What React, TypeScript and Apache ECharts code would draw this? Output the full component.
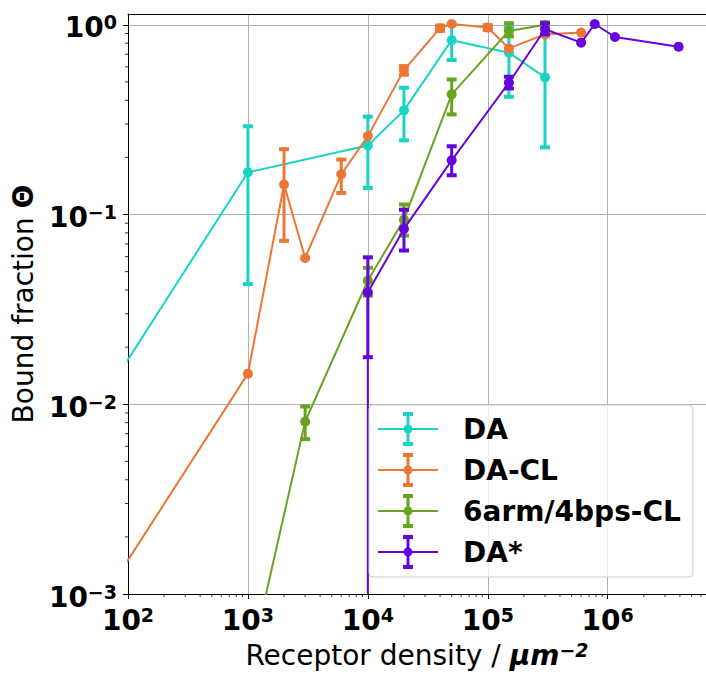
import React, { useEffect, useRef } from 'react';
import * as echarts from 'echarts';

// ---- data ----
const seriesNames = ['DA', 'DA-CL', '6arm/4bps-CL', 'DA*'];
const seriesColors = ['#19d3c5', '#ec7633', '#67a41f', '#6505dc'];

const daX = [1e1, 1e3, 1e4, 2e4, 5e4, 1.5e5, 3e5];
const daY = [0.00177, 0.167, 0.231, 0.354, 0.83, 0.713, 0.528];
const daLo = [null, 0.043, 0.138, 0.246, 0.652, 0.418, 0.226];
const daHi = [null, 0.292, 0.328, 0.466, 1.0, 0.97, 0.88];

const daclX = [1e1, 1e3, 2e3, 3e3, 6e3, 1e4, 2e4, 4e4, 5e4, 1e5, 1.5e5, 3e5, 6e5];
const daclY = [0.000157, 0.0145, 0.144, 0.059, 0.163, 0.259, 0.577, 0.96, 1.01, 0.967, 0.751, 0.89, 0.91];
const daclLo = [null, null, 0.0727, null, 0.13, null, 0.546, 0.93, null, 0.94, null, null, null];
const daclHi = [null, null, 0.221, null, 0.195, null, 0.606, 0.99, null, 0.995, null, null, null];

const armX = [1e3, 3e3, 1e4, 2e4, 5e4, 1.5e5, 3e5];
const armY = [0.00038, 0.0081, 0.0449, 0.094, 0.43, 0.928, 1.0];
const armLo = [null, 0.00655, 0.0374, 0.0775, 0.337, 0.87, 0.97];
const armHi = [null, 0.00973, 0.0524, 0.113, 0.515, 1.02, 1.03];

const dasX = [1e4, 1e4, 2e4, 5e4, 1.5e5, 3e5, 6e5, 7.8e5, 1.15e6, 3.9e6];
const dasY = [1e-6, 0.0389, 0.084, 0.193, 0.495, 0.947, 0.805, 1.01, 0.862, 0.767];
const dasLo = [null, 0.0177, 0.0646, 0.161, 0.461, 0.89, null, null, null, null];
const dasHi = [null, 0.0595, 0.106, 0.229, 0.533, 1.02, null, null, null, null];

const xTicks = [1e2, 1e3, 1e4, 1e5, 1e6];
const yTicks = [1e-3, 1e-2, 1e-1, 1];

const X_MIN = 100;
const X_MAX = 6.6e6;
const Y_MIN = 1e-3;
const Y_MAX = 1.14;

const FONT = 'DejaVu Sans';

const sets = [
  { x: daX, y: daY, lo: daLo, hi: daHi },
  { x: daclX, y: daclY, lo: daclLo, hi: daclHi },
  { x: armX, y: armY, lo: armLo, hi: armHi },
  { x: dasX, y: dasY, lo: dasLo, hi: dasHi },
];

function minorOf(majors: number[], max: number) {
  const out: number[] = [];
  majors.forEach((m) => {
    for (let k = 2; k <= 9; k++) {
      const v = m * k;
      if (v < max) out.push(v);
    }
  });
  return out;
}

const supText = (e: number) => (e < 0 ? '\u2212' + Math.abs(e) : String(e));
const powLabel = (v: number) => {
  const l = Math.log10(v);
  const e = Math.round(l);
  if (Math.abs(l - e) > 1e-6) return '';
  return `{b|10}{s|${supText(e)}}`;
};

const labelRich = {
  b: { fontSize: 28, fontWeight: 'bold', fontFamily: FONT, color: '#000', lineHeight: 30 },
  s: { fontSize: 19, fontWeight: 'bold', fontFamily: FONT, color: '#000', lineHeight: 18, verticalAlign: 'top' },
};

const ICON =
  'path://M0 16h60v2h-60z' +
  'M28.5 2h3v30h-3z' +
  'M25 0h10v4h-10z' +
  'M25 30h10v4h-10z' +
  'M25.5 17A4.5 4.5 0 1 1 34.5 17A4.5 4.5 0 1 1 25.5 17z';

function buildOption() {
  const series: any[] = [];
  sets.forEach((s, i) => {
    const color = seriesColors[i];
    const errData: number[][] = [];
    s.x.forEach((xv, j) => {
      if (s.lo[j] != null && s.hi[j] != null) errData.push([xv, s.lo[j] as number, s.hi[j] as number]);
    });
    series.push({
      name: seriesNames[i] + ' err',
      type: 'custom',
      clip: true,
      silent: true,
      z: 2 + i,
      data: errData,
      encode: { x: 0, y: [1, 2] },
      renderItem: (params: any, api: any) => {
        const xv = api.value(0);
        const a = api.coord([xv, api.value(1)]);
        const b = api.coord([xv, api.value(2)]);
        return {
          type: 'group',
          children: [
            { type: 'line', shape: { x1: a[0], y1: a[1], x2: b[0], y2: b[1] }, style: { stroke: color, lineWidth: 3 } },
            { type: 'rect', shape: { x: a[0] - 5, y: a[1] - 2, width: 10, height: 4 }, style: { fill: color } },
            { type: 'rect', shape: { x: b[0] - 5, y: b[1] - 2, width: 10, height: 4 }, style: { fill: color } },
          ],
        };
      },
    });
    series.push({
      name: seriesNames[i],
      type: 'line',
      z: 2 + i,
      clip: true,
      silent: true,
      symbol: 'circle',
      symbolSize: 10,
      showSymbol: true,
      showAllSymbol: true,
      color,
      itemStyle: { color, borderWidth: 0 },
      lineStyle: { color, width: 2 },
      emphasis: { disabled: true },
      data: s.x.map((xv, j) => [xv, s.y[j]]),
    });
  });

  // minor ticks (matplotlib style log minor ticks)
  const xMinor = minorOf(xTicks, X_MAX);
  const yMinor = minorOf(yTicks, Y_MAX).filter((v) => v < 1);
  series.push({
    name: 'xminor',
    type: 'custom',
    silent: true,
    clip: false,
    data: xMinor.map((v) => [v, Y_MIN]),
    renderItem: (params: any, api: any) => {
      const p = api.coord([api.value(0), api.value(1)]);
      return { type: 'line', shape: { x1: p[0], y1: p[1], x2: p[0], y2: p[1] + 3 }, style: { stroke: '#000', lineWidth: 0.8 } };
    },
  });
  series.push({
    name: 'yminor',
    type: 'custom',
    silent: true,
    clip: false,
    data: yMinor.map((v) => [X_MIN, v]),
    renderItem: (params: any, api: any) => {
      const p = api.coord([api.value(0), api.value(1)]);
      return { type: 'line', shape: { x1: p[0], y1: p[1], x2: p[0] - 3, y2: p[1] }, style: { stroke: '#000', lineWidth: 0.8 } };
    },
  });

  return {
    animation: false,
    backgroundColor: '#ffffff',
    grid: { left: 128, top: 14, right: 0, bottom: 81, containLabel: false },
    xAxis: [
      {
        type: 'log',
        logBase: 10,
        min: X_MIN,
        max: X_MAX,
        name: 'Receptor density / {b|\u03bcm}{s|\u22122}',
        nameLocation: 'middle',
        nameGap: 46,
        nameTextStyle: {
          fontSize: 28,
          fontFamily: FONT,
          color: '#000',
          lineHeight: 30,
          rich: {
            b: { fontSize: 28, fontFamily: FONT, fontWeight: 'bold', fontStyle: 'italic', color: '#000', lineHeight: 30 },
            s: { fontSize: 19, fontFamily: FONT, fontWeight: 'bold', fontStyle: 'italic', color: '#000', lineHeight: 18, verticalAlign: 'top' },
          },
        },
        axisLine: { show: true, lineStyle: { color: '#000', width: 1 } },
        axisTick: { show: true, inside: false, length: 5, lineStyle: { color: '#000', width: 1 }, customValues: xTicks },
        axisLabel: { show: true, margin: 11, formatter: powLabel, rich: labelRich, customValues: xTicks },
        splitLine: { show: true, lineStyle: { color: '#b0b0b0', width: 1 } },
        minorTick: { show: false },
      },
      {
        type: 'log',
        logBase: 10,
        position: 'top',
        min: X_MIN,
        max: X_MAX,
        axisLine: { show: true, lineStyle: { color: '#000', width: 1 } },
        axisTick: { show: false },
        axisLabel: { show: false },
        splitLine: { show: false },
      },
    ],
    yAxis: {
      type: 'log',
      logBase: 10,
      min: Y_MIN,
      max: Y_MAX,
      name: 'Bound fraction {t|\u0398}',
      nameLocation: 'middle',
      nameRotate: 90,
      nameGap: 85,
      nameTextStyle: {
        fontSize: 28,
        fontFamily: FONT,
        color: '#000',
        rich: { t: { fontSize: 28, fontFamily: FONT, fontWeight: 'bold', color: '#000' } },
      },
      axisLine: { show: true, lineStyle: { color: '#000', width: 1 } },
      axisTick: { show: true, inside: false, length: 5, lineStyle: { color: '#000', width: 1 }, customValues: yTicks },
      axisLabel: { show: true, margin: 11, formatter: powLabel, rich: labelRich, padding: [6, 0, 0, 0], customValues: yTicks },
      splitLine: { show: true, lineStyle: { color: '#b0b0b0', width: 1 } },
      minorTick: { show: false },
    },
    legend: {
      data: seriesNames,
      orient: 'vertical',
      left: 369,
      top: 405,
      icon: ICON,
      itemWidth: 60,
      itemHeight: 34,
      itemGap: 7,
      padding: [7, 12, 8, 9],
      backgroundColor: 'rgba(255,255,255,0.8)',
      borderColor: '#cccccc',
      borderWidth: 1,
      borderRadius: 4,
      selectedMode: false,
      itemStyle: { borderWidth: 0 },
      textStyle: { fontSize: 28, fontWeight: 'bold', fontFamily: FONT, color: '#000', padding: [0, 0, 0, 20] },
      z: 20,
    },
    series,
  };
}

export default function App() {
  const ref = useRef<HTMLDivElement>(null);
  useEffect(() => {
    const chart = echarts.init(ref.current as HTMLDivElement, null, { renderer: 'svg' });
    chart.setOption(buildOption() as any);
    return () => chart.dispose();
  }, []);
  return (
    <div
      ref={ref}
      style={{ position: 'fixed', left: 0, top: 0, width: 706, height: 675, background: '#fff' }}
    />
  );
}
